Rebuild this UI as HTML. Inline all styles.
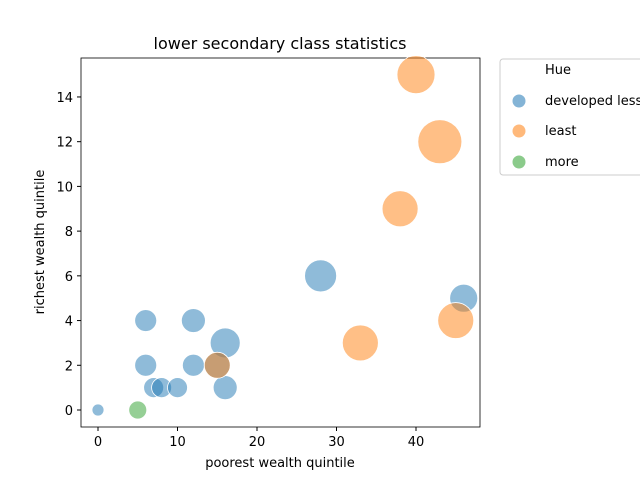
<!DOCTYPE html>
<html><head><meta charset="utf-8"><style>
body{margin:0;background:#fff;}
svg text{font-family:"DejaVu Sans","Liberation Sans",sans-serif;fill:#000;}
</style></head><body>
<svg id="c" width="640" height="480">
<rect x="0" y="0" width="640" height="480" fill="#fff"/>
<text x="280" y="49" font-size="16" text-anchor="middle">lower secondary class statistics</text>
<rect x="81" y="58" width="399" height="369" fill="none" stroke="#000" stroke-width="0.8"/>
<g id="ticks"></g>
<g id="pts"></g>
<text x="280" y="467" font-size="13" text-anchor="middle">poorest wealth quintile</text>
<text x="0" y="0" font-size="13" text-anchor="middle" transform="translate(44,242) rotate(-90)">richest wealth quintile</text>
<g>
<rect x="500" y="59" width="150" height="116" rx="3" fill="#fff" stroke="#ccc" stroke-width="1"/>
<text x="545" y="74" font-size="13">Hue</text>
<circle cx="519" cy="101" r="7" fill="#1f77b4" fill-opacity="0.55" stroke="#fff"/>
<text x="545" y="105" font-size="13">developed less</text>
<circle cx="519" cy="131" r="7" fill="#ff7f0e" fill-opacity="0.55" stroke="#fff"/>
<text x="545" y="135" font-size="13">least</text>
<circle cx="519" cy="162" r="7" fill="#2ca02c" fill-opacity="0.55" stroke="#fff"/>
<text x="545" y="166" font-size="13">more</text>
</g>
</svg>
<script>
const xVals=[0,6,6,7,8,10,12,12,16,16,15,28,46,40,43,38,33,45,15,5];
const yVals=[0,4,2,1,1,1,4,2,3,1,2,6,5,15,12,9,3,4,2,0];
const sizeVals=[6,11,11,10,10,10,12,11,15,12,13,16,14,19,22,18,18,18,13,9];
const hueVals=["developed less","developed less","developed less","developed less","developed less","developed less","developed less","developed less","developed less","developed less","developed less","developed less","developed less","least","least","least","least","least","least","more"];
const xTicks=[0,10,20,30,40];
const yTicks=[0,2,4,6,8,10,12,14];
const colors={"developed less":"#1f77b4","least":"#ff7f0e","more":"#2ca02c"};
const xs=v=>98+v*7.95;
const ys=v=>410-v*22.36;
const NS="http://www.w3.org/2000/svg";
const tg=document.getElementById('ticks');
xTicks.forEach(t=>{
 const l=document.createElementNS(NS,'line');
 l.setAttribute('x1',xs(t));l.setAttribute('x2',xs(t));l.setAttribute('y1',427);l.setAttribute('y2',431);l.setAttribute('stroke','#000');
 
 
 tg.appendChild(l);
 const tx=document.createElementNS(NS,'text');
 tx.setAttribute('x',xs(t));tx.setAttribute('y',446);tx.setAttribute('font-size','13');tx.setAttribute('text-anchor','middle');tx.textContent=t;
 
 
 tg.appendChild(tx);
});
yTicks.forEach(t=>{
 const l=document.createElementNS(NS,'line');
 l.setAttribute('x1',77);l.setAttribute('x2',81);l.setAttribute('y1',ys(t));l.setAttribute('y2',ys(t));l.setAttribute('stroke','#000');
 
 
 tg.appendChild(l);
 const tx=document.createElementNS(NS,'text');
 tx.setAttribute('x',73);tx.setAttribute('y',ys(t)+5);tx.setAttribute('font-size','13');tx.setAttribute('text-anchor','end');tx.textContent=t;
 
 
 tg.appendChild(tx);
});
const pg=document.getElementById('pts');
xVals.forEach((x,i)=>{
 const c=document.createElementNS(NS,'circle');
 c.setAttribute('cx',xs(x));c.setAttribute('cy',ys(yVals[i]));c.setAttribute('r',sizeVals[i]);
 c.setAttribute('fill',colors[hueVals[i]]);c.setAttribute('fill-opacity','0.5');c.setAttribute('stroke','#fff');c.setAttribute('stroke-width','0.8');
 
 
 pg.appendChild(c);
});
</script>
</body></html>
